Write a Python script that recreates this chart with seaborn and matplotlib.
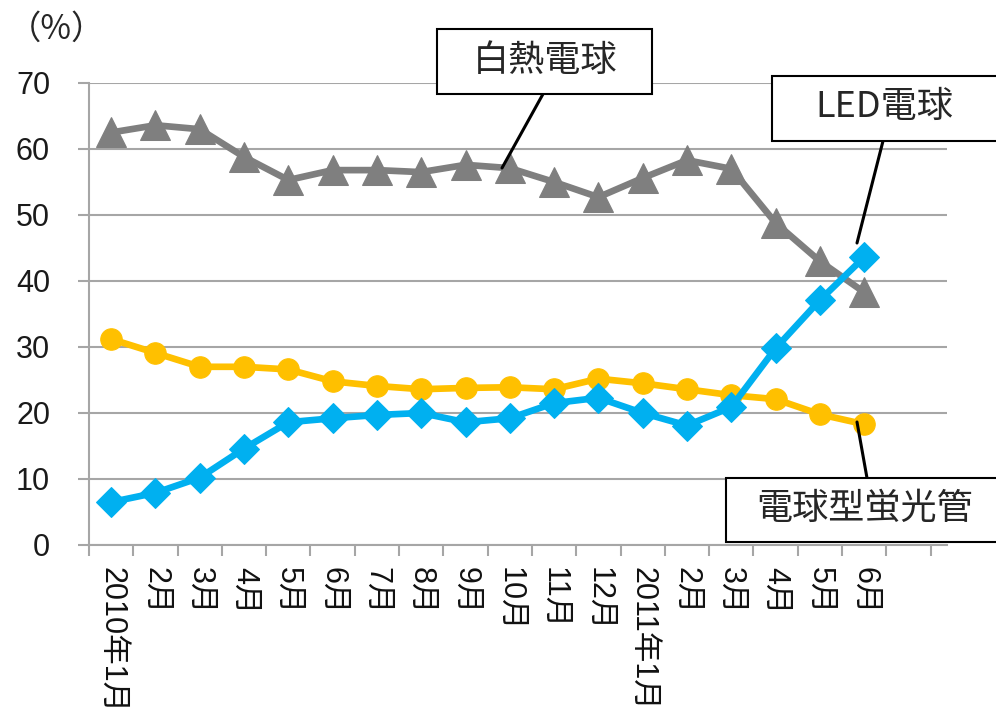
import numpy as np
import matplotlib
matplotlib.use("Agg")
import matplotlib.pyplot as plt
from matplotlib.patches import Rectangle
from matplotlib.lines import Line2D
import seaborn as sns

months = ["2010年1月", "2月", "3月", "4月", "5月", "6月", "7月", "8月", "9月",
          "10月", "11月", "12月", "2011年1月", "2月", "3月", "4月", "5月", "6月"]
incandescent = [62.5, 63.6, 63.0, 58.8, 55.3, 56.8, 56.8, 56.5, 57.6,
                57.1, 55.0, 52.7, 55.6, 58.3, 57.0, 48.8, 43.0, 38.3]
led = [6.5, 7.9, 10.2, 14.6, 18.6, 19.2, 19.7, 20.0, 18.6,
       19.2, 21.5, 22.3, 20.0, 18.1, 20.9, 29.8, 37.1, 43.6]
cfl = [31.2, 29.1, 27.0, 27.0, 26.6, 24.8, 24.1, 23.6, 23.8,
       23.9, 23.6, 25.2, 24.5, 23.6, 22.7, 22.1, 19.8, 18.3]

GRAY = "#7f7f7f"
BLUE = "#00b0f0"
ORANGE = "#ffc000"
GRID = "#a6a6a6"

sns.set_style("white")
plt.rcParams["font.family"] = ["Liberation Sans", "Noto Sans CJK JP", "DejaVu Sans"]

W, H = 996, 718
fig = plt.figure(figsize=(W / 100, H / 100), dpi=100)
ax = fig.add_axes([89 / W, 173 / H, (947 - 89) / W, (545 - 83) / H])

x = np.arange(len(months))
sns.lineplot(x=x, y=incandescent, ax=ax, color=GRAY, lw=4.8, marker="^",
             markersize=21, markeredgecolor=GRAY, zorder=3)
sns.lineplot(x=x, y=cfl, ax=ax, color=ORANGE, lw=4.8, marker="o",
             markersize=15.5, markeredgecolor=ORANGE, zorder=4)
sns.lineplot(x=x, y=led, ax=ax, color=BLUE, lw=4.8, marker="D",
             markersize=15.5, markeredgecolor=BLUE, zorder=5)

ax.set_xlim(-0.5, 18.87)
ax.set_ylim(0, 70)
ax.set_yticks(np.arange(0, 71, 10))
ax.yaxis.grid(True, color=GRID, lw=1.5)
ax.set_axisbelow(True)
ax.tick_params(axis="y", length=8, width=1.5, color=GRID, pad=20,
               labelsize=22, labelcolor="#1a1a1a", left=True)

ax.set_xticks(np.arange(-0.5, 19, 1))
ax.set_xticklabels([])
ax.set_xticks(x, minor=True)
ax.set_xticklabels(months, minor=True, rotation=270, ha="center", va="top",
                   fontsize=22, color="#111111")
ax.tick_params(axis="x", which="major", length=8, width=1.5, color=GRID,
               bottom=True, direction="out")
ax.tick_params(axis="x", which="minor", length=0, pad=16)

for s in ["top", "right"]:
    ax.spines[s].set_visible(False)
for s in ["left", "bottom"]:
    ax.spines[s].set_color(GRID)
    ax.spines[s].set_linewidth(1.5)

fig.text(8 / W, 1 - 29 / H, "（%）", fontsize=24, va="center", ha="left",
         family=["Noto Sans CJK JP"])


def px(xp, yp):
    return xp / W, 1 - yp / H


def label_box(x0, y0, x1, y1, text, tx, ty, size):
    fx0, fy1 = px(x0, y0)
    fx1, fy0 = px(x1, y1)
    fig.add_artist(Rectangle((fx0, fy0), fx1 - fx0, fy1 - fy0,
                             transform=fig.transFigure, facecolor="white",
                             edgecolor="black", lw=1.5, zorder=10))
    fig.text(*px(tx, ty), text, fontsize=size, ha="center", va="center",
             family=["Noto Sans CJK JP"], zorder=11)


def leader(p0, p1):
    (a, b), (c, d) = px(*p0), px(*p1)
    fig.add_artist(Line2D([a, c], [b, d], transform=fig.transFigure,
                          color="black", lw=2.2, zorder=9))


leader((543, 94), (502, 168))
label_box(437, 29, 652, 94, "白熱電球", 545, 61, 26)
leader((883, 141), (857, 243))
label_box(772, 76, 1000, 141, "LED電球", 884, 107, 26)
leader((857, 422), (867, 478))
label_box(726, 478, 1000, 542, "電球型蛍光管", 865, 509, 26)

fig.savefig("out.png", dpi=100)
